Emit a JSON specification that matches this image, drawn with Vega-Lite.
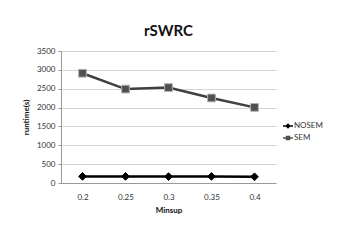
{
  "$schema": "https://vega.github.io/schema/vega-lite/v6.json",
  "width": 215,
  "height": 132,
  "autosize": {"type": "none"},
  "padding": {"left": 61, "top": 51, "right": 69, "bottom": 61},
  "background": "white",
  "title": {"text": "rSWRC", "fontSize": 15, "font": "Lato", "fontWeight": "bold", "color": "#111", "anchor": "middle", "offset": 8},
  "data": {"values": [
    {"minsup": "0.2", "series": "NOSEM", "runtime": 175},
    {"minsup": "0.25", "series": "NOSEM", "runtime": 175},
    {"minsup": "0.3", "series": "NOSEM", "runtime": 170},
    {"minsup": "0.35", "series": "NOSEM", "runtime": 175},
    {"minsup": "0.4", "series": "NOSEM", "runtime": 165},
    {"minsup": "0.2", "series": "SEM", "runtime": 2910},
    {"minsup": "0.25", "series": "SEM", "runtime": 2490},
    {"minsup": "0.3", "series": "SEM", "runtime": 2530},
    {"minsup": "0.35", "series": "SEM", "runtime": 2255},
    {"minsup": "0.4", "series": "SEM", "runtime": 2005}
  ]},
  "encoding": {
    "x": {"field": "minsup", "type": "ordinal", "sort": null,
      "scale": {"type": "point", "padding": 0.5},
      "axis": {"title": "Minsup", "labelAngle": 0, "ticks": false, "labelPadding": 10, "grid": false,
        "domainColor": "#999", "labelFontSize": 8, "labelColor": "#333", "titleFontSize": 8, "titleFontWeight": "bold", "titleColor": "#111", "titlePadding": 5, "labelFont": "Lato", "titleFont": "Lato"}},
    "y": {"field": "runtime", "type": "quantitative",
      "scale": {"domain": [0, 3500], "nice": false},
      "axis": {"title": "runtime(s)", "values": [0, 500, 1000, 1500, 2000, 2500, 3000, 3500], "format": "d",
        "tickSize": 3, "tickColor": "#999", "domainColor": "#999", "gridColor": "#d4d4d4", "labelPadding": 3,
        "labelFontSize": 8, "labelColor": "#333", "titleFontSize": 8, "titleFontWeight": "bold", "titleColor": "#111", "titlePadding": 6, "labelFont": "Lato", "titleFont": "Lato"}}
  },
  "layer": [
    {
      "mark": {"type": "line", "strokeWidth": 2.5},
      "encoding": {"color": {"field": "series", "type": "nominal", "scale": {"domain": ["NOSEM", "SEM"], "range": ["#000000", "#404040"]}, "legend": null}}
    },
    {
      "mark": {"type": "point", "filled": true, "opacity": 1, "size": 60, "strokeWidth": 1},
      "encoding": {
        "color": {"field": "series", "type": "nominal", "scale": {"domain": ["NOSEM", "SEM"], "range": ["#000000", "#505050"]}, "legend": null},
        "shape": {"field": "series", "type": "nominal", "scale": {"domain": ["NOSEM", "SEM"], "range": ["diamond", "square"]}, "legend": null},
        "stroke": {"field": "series", "type": "nominal", "scale": {"domain": ["NOSEM", "SEM"], "range": ["#000000", "#b0b0b0"]}, "legend": null}
      }
    },
    {
      "mark": {"type": "point", "filled": true, "opacity": 0, "size": 100},
      "encoding": {
        "color": {"field": "series", "type": "nominal", "scale": {"domain": ["NOSEM", "SEM"], "range": ["#000000", "#505050"]}},
        "shape": {"field": "series", "type": "nominal",
          "scale": {"domain": ["NOSEM", "SEM"], "range": [
            "M-1,-0.15H1V0.15H-1ZM0,-0.55L0.55,0L0,0.55L-0.55,0Z",
            "M-1,-0.15H1V0.15H-1ZM-0.45,-0.45H0.45V0.45H-0.45Z"]}},
        "stroke": {"value": null}
      }
    }
  ],
  "resolve": {"scale": {"color": "independent", "shape": "independent", "stroke": "independent"}},
  "config": {
    "view": {"stroke": null},
    "legend": {"orient": "none", "legendX": 221, "legendY": 69, "title": null, "symbolSize": 100, "labelFontSize": 8, "labelFont": "Lato", "labelColor": "#333", "labelOffset": 0, "rowPadding": 2, "symbolOpacity": 1}
  }
}
